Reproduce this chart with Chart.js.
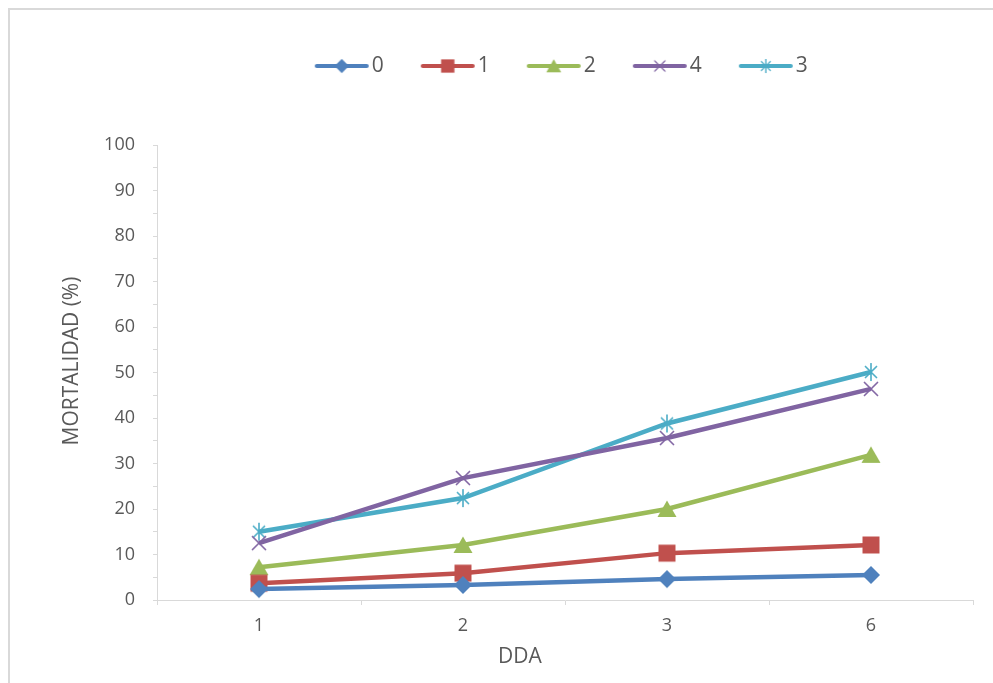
<!DOCTYPE html>
<html lang="es">
<head>
  <meta charset="UTF-8" />
  <title>Mortalidad (%) por DDA</title>
  <style>
    body { margin: 0; background: #fff; }
    #wrap { position: relative; width: 993px; height: 683px; overflow: hidden; }
    #frame { position: absolute; left: 8px; top: 8px; width: 1000px; height: 700px; border: 2px solid #d9d9d9; box-sizing: border-box; }
    canvas { position: absolute; left: 0; top: 0; }
  </style>
  <script src="https://cdn.jsdelivr.net/npm/chart.js"></script>
</head>
<body>
  <div id="wrap">
    <div id="frame"></div>
    <canvas id="chart" width="993" height="683"></canvas>
  </div>

  <script>
    // categories (DDA) and series values
    const categories = ["1", "2", "3", "6"];
    const seriesLabels = ["0", "1", "2", "4", "3"];
    const s0 = [2.4, 3.3, 4.6, 5.5];
    const s1 = [3.7, 5.9, 10.3, 12.1];
    const s2 = [7.2, 12.1, 20.0, 31.9];
    const s4 = [12.5, 26.8, 35.6, 46.4];
    const s3 = [15.0, 22.4, 38.8, 50.1];
    const seriesValues = [s0, s1, s2, s4, s3];

    const xTitle = "DDA";
    const yTitle = "MORTALIDAD (%)";

    const colors = ["#4f81bd", "#c0504d", "#9bbb59", "#8064a2", "#4bacc6"];
    const markers = ["diamond", "square", "triangle", "cross", "star"];
    const textColor = "#595959";
    const axisColor = "#d9d9d9";
    const fontFamily = "'Open Sans', 'Liberation Sans', sans-serif";

    // marker images (Excel style), used by the points and the legend
    function markerCanvas(kind, color) {
      const c = document.createElement("canvas");
      c.width = 24; c.height = 24;
      const ctx = c.getContext("2d");
      ctx.fillStyle = color;
      ctx.strokeStyle = color;
      ctx.lineWidth = 1.6;
      ctx.beginPath();
      if (kind === "diamond") {
        ctx.moveTo(12, 3); ctx.lineTo(21, 12); ctx.lineTo(12, 21); ctx.lineTo(3, 12);
        ctx.closePath(); ctx.fill();
      } else if (kind === "square") {
        ctx.rect(3.5, 3.5, 17, 17); ctx.fill();
      } else if (kind === "triangle") {
        ctx.moveTo(12, 3.5); ctx.lineTo(21.5, 20); ctx.lineTo(2.5, 20);
        ctx.closePath(); ctx.fill();
      } else if (kind === "cross") {
        ctx.moveTo(5, 5); ctx.lineTo(19, 19); ctx.moveTo(19, 5); ctx.lineTo(5, 19);
        ctx.stroke();
      } else {
        ctx.moveTo(6, 6); ctx.lineTo(18, 18); ctx.moveTo(18, 6); ctx.lineTo(6, 18);
        ctx.moveTo(12, 3); ctx.lineTo(12, 21);
        ctx.stroke();
      }
      return c;
    }

    function legendCanvas(marker, color) {
      const c = document.createElement("canvas");
      c.width = 56; c.height = 24;
      const ctx = c.getContext("2d");
      ctx.strokeStyle = color;
      ctx.lineWidth = 4;
      ctx.lineCap = "round";
      ctx.beginPath(); ctx.moveTo(3, 12); ctx.lineTo(53, 12); ctx.stroke();
      ctx.drawImage(marker, 28 - 9.5, 12 - 9.5, 19, 19);
      return c;
    }

    const markerImgs = markers.map((m, i) => markerCanvas(m, colors[i]));
    const legendImgs = markerImgs.map((m, i) => legendCanvas(m, colors[i]));

    const datasets = seriesLabels.map((label, i) => ({
      label: label,
      data: seriesValues[i],
      borderColor: colors[i],
      backgroundColor: colors[i],
      borderWidth: 4.5,
      pointStyle: markerImgs[i],
      pointRadius: 9,
      tension: 0
    }));

    // make room between the legend and the plot
    const legendSpace = {
      id: "legendSpace",
      beforeLayout(chart) {
        const lg = chart.legend;
        if (lg && !lg._patched) {
          const fit = lg.fit;
          lg.fit = function () { fit.call(this); this.height = 134; };
          lg._patched = true;
        }
      }
    };

    // axis titles sit where Excel put them, not centred on the plot
    const axisTitles = {
      id: "axisTitles",
      afterDraw(chart) {
        const ctx = chart.ctx;
        ctx.save();
        ctx.fillStyle = textColor;
        ctx.font = "21px " + fontFamily;
        ctx.textAlign = "center";
        ctx.textBaseline = "middle";
        ctx.fillText(xTitle, 520, 657);
        ctx.translate(72, 361);
        ctx.rotate(-Math.PI / 2);
        ctx.fillText(yTitle, 0, 0);
        ctx.restore();
      }
    };

    new Chart(document.getElementById("chart"), {
      type: "line",
      data: { labels: categories, datasets: datasets },
      plugins: [legendSpace, axisTitles],
      options: {
        responsive: false,
        animation: false,
        layout: { padding: { top: 11, right: 20, left: 0, bottom: 0 } },
        plugins: {
          tooltip: { enabled: false },
          legend: {
            position: "top",
            fullSize: false,
            labels: {
              usePointStyle: true,
              pointStyleWidth: 39,
              padding: 44.5,
              color: textColor,
              font: { family: fontFamily, size: 21 },
              generateLabels(chart) {
                return chart.data.datasets.map((ds, i) => ({
                  text: ds.label,
                  fontColor: textColor,
                  pointStyle: legendImgs[i],
                  lineWidth: 0,
                  datasetIndex: i
                }));
              }
            }
          }
        },
        scales: {
          x: {
            offset: true,
            afterFit(scale) { scale.height = 83; },
            grid: { offset: true, drawOnChartArea: false, drawTicks: true, tickLength: 5, color: axisColor },
            border: { color: axisColor, width: 1 },
            ticks: { color: textColor, font: { family: fontFamily, size: 18 }, padding: 10 }
          },
          y: {
            min: 0,
            max: 100,
            afterFit(scale) { scale.width = 157; },
            grid: { drawOnChartArea: false, drawTicks: true, tickLength: 4, color: axisColor },
            border: { color: axisColor, width: 1 },
            ticks: {
              stepSize: 5,
              autoSkip: false,
              padding: 18,
              color: textColor,
              font: { family: fontFamily, size: 18 },
              callback: v => (v % 10 === 0 ? v : "")
            }
          }
        }
      }
    });
  </script>
</body>
</html>
